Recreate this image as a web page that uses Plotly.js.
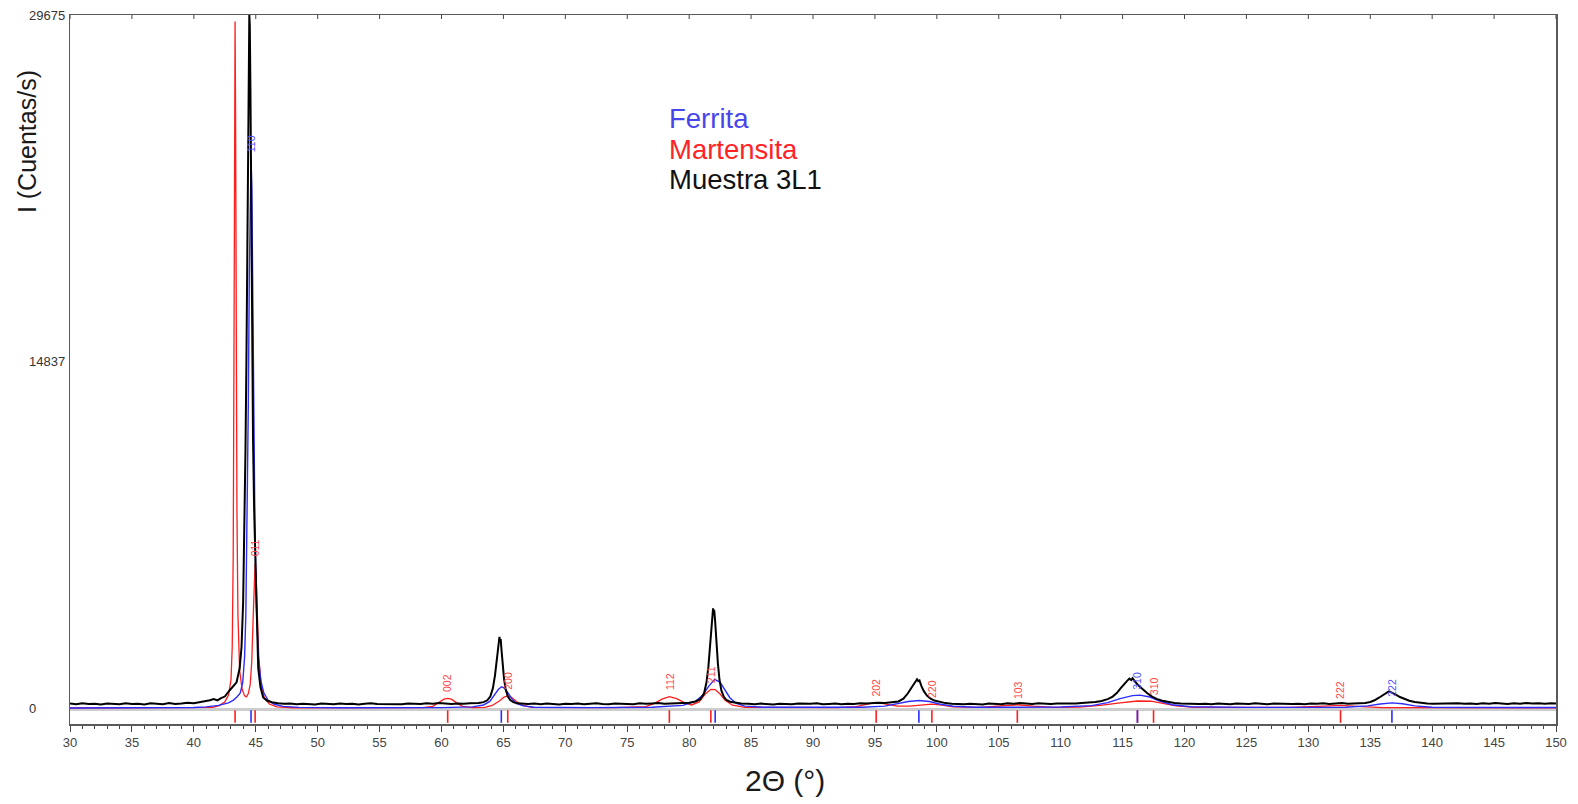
<!DOCTYPE html>
<html>
<head>
<meta charset="utf-8">
<script src="https://cdn.plot.ly/plotly-3.0.1.min.js"></script>
<style>
  html, body { margin: 0; padding: 0; background: #ffffff; }
  #chart { width: 1578px; height: 804px; }
</style>
</head>
<body>
<div id="chart"></div>
<script>
// Difractograma: patrón medido (Muestra 3L1) y patrones calculados de ferrita y martensita.
// Cada serie es una lista de pares [2θ (°), I (cuentas/s)].

const ferrita = [
  [30,0],[38,0],[40,20],[41,50],[42,110],[42.8,220],[43.2,340],[43.5,480],[43.75,650],[43.95,1100],
  [44.1,2200],[44.2,4000],[44.3,7500],[44.4,13000],[44.48,18500],[44.55,22300],[44.62,23500],[44.68,22300],
  [44.75,18500],[44.83,13000],[44.93,8000],[45.05,4300],[45.2,2300],[45.4,1200],[45.65,650],[46.0,330],
  [46.5,160],[47.2,70],[48.5,25],[52,10],[60,15],[62.5,50],[63.4,130],[63.9,280],[64.3,560],[64.6,800],
  [64.86,910],[65.1,840],[65.4,620],[65.7,380],[66.05,200],[66.6,90],[67.5,35],[72,15],[77,30],[79.5,110],
  [80.5,280],[81.1,560],[81.6,950],[82.07,1230],[82.5,1100],[82.9,760],[83.3,430],[83.8,200],[84.5,80],
  [86,30],[94,30],[95.8,80],[96.8,170],[97.7,280],[98.55,320],[99.4,280],[100.2,170],[101.3,75],[103,30],
  [110,40],[112.5,100],[113.8,230],[114.8,400],[115.8,530],[116.4,550],[117.2,470],[118.0,300],[119.0,140],
  [120.5,55],[125,25],[133,35],[134.8,90],[135.8,170],[136.75,220],[137.6,180],[138.6,90],[140,35],[150,20]
];

const martensita = [
  [30,0],[40,5],[41.5,30],[42.0,90],[42.5,260],[42.8,550],[43.0,1200],[43.1,2600],[43.18,6500],[43.24,15000],
  [43.29,24500],[43.33,29400],[43.37,25500],[43.42,16500],[43.48,8500],[43.56,4000],[43.7,1600],[43.9,800],
  [44.1,520],[44.25,480],[44.4,620],[44.55,1000],[44.68,2000],[44.78,3700],[44.87,5400],[44.95,6200],
  [45.03,5600],[45.12,3900],[45.25,2100],[45.45,950],[45.7,420],[46.1,170],[46.7,50],[48,10],[58.5,15],
  [59.3,70],[59.8,230],[60.2,380],[60.5,415],[60.8,380],[61.2,230],[61.7,70],[62.5,15],[63.5,30],[64.1,110],
  [64.7,310],[65.05,470],[65.35,515],[65.65,460],[66.0,300],[66.5,120],[67.3,30],[74,15],[76.5,60],[77.2,200],
  [77.8,380],[78.4,485],[79.0,400],[79.6,230],[80.2,130],[80.8,260],[81.3,600],[81.75,800],[82.1,790],
  [82.5,600],[82.9,330],[83.5,120],[84.5,30],[92,15],[93.5,60],[94.3,160],[95.1,240],[95.9,170],[96.8,80],
  [97.8,80],[98.7,130],[99.6,165],[100.4,120],[101.3,50],[103.5,25],[105.2,80],[106.5,140],[107.8,80],
  [109.5,25],[111.5,40],[113.2,110],[114.8,220],[116.2,300],[117.3,290],[118.3,200],[119.3,90],[120.8,25],
  [128.5,25],[130.8,70],[132.6,110],[134.3,60],[136,20],[150,10]
];

const muestra = [
  [30,190],[30.5,160],[31,200],[31.5,170],[32,185],[32.5,150],[33,195],[33.5,175],[34,160],[34.5,205],
  [35,170],[35.5,185],[36,155],[36.5,200],[37,180],[37.5,165],[38,210],[38.5,175],[39,190],[39.5,220],
  [40,200],[40.5,240],[41,280],[41.3,330],[41.6,380],[41.9,330],[42.2,420],[42.5,490],[42.9,760],[43.2,950],
  [43.45,1100],[43.7,1700],[43.85,2600],[43.98,4500],[44.08,7500],[44.17,11000],[44.25,15000],[44.33,20000],
  [44.4,25000],[44.45,28500],[44.48,29700],[44.52,29200],[44.57,26500],[44.63,21500],[44.7,16000],
  [44.78,11500],[44.87,8500],[44.95,6500],[45.05,4000],[45.2,1700],[45.38,900],[45.6,450],[45.9,320],
  [46.3,250],[46.8,205],[47.3,180],[47.8,195],[48.3,160],[48.8,185],[49.3,170],[49.8,155],[50.3,190],
  [50.8,175],[51.3,160],[51.8,195],[52.3,170],[52.8,185],[53.3,150],[53.8,180],[54.3,200],[54.8,170],
  [55.3,165],[55.8,190],[56.3,175],[56.8,160],[57.3,195],[57.8,180],[58.3,170],[58.8,200],[59.3,185],
  [59.8,210],[60.3,190],[60.8,175],[61.3,195],[61.8,180],[62.3,200],[62.7,190],[63.0,210],[63.4,250],
  [63.7,330],[63.95,500],[64.15,850],[64.32,1400],[64.45,2000],[64.55,2550],[64.62,2900],[64.68,3050],
  [64.73,2850],[64.78,2950],[64.86,2400],[64.95,1800],[65.05,1250],[65.18,800],[65.35,500],[65.55,340],
  [65.8,250],[66.1,200],[66.5,185],[67,170],[67.5,190],[68,160],[68.5,190],[69,175],[69.5,155],[70,185],
  [70.5,170],[71,195],[71.5,165],[72,180],[72.5,200],[73,170],[73.5,160],[74,190],[74.5,175],[75,185],
  [75.5,165],[76,200],[76.5,180],[77,195],[77.5,210],[78,185],[78.5,200],[79,220],[79.5,205],[80.0,230],
  [80.5,280],[80.9,380],[81.2,620],[81.4,1100],[81.55,1750],[81.68,2600],[81.8,3500],[81.88,4100],
  [81.93,4270],[81.97,4050],[82.02,4200],[82.1,3700],[82.2,2800],[82.32,1900],[82.45,1200],[82.6,750],
  [82.8,480],[83.0,350],[83.3,270],[83.7,220],[84.2,190],[84.8,180],[85.3,165],[85.8,190],[86.3,170],
  [86.8,155],[87.3,185],[87.8,175],[88.3,160],[88.8,190],[89.3,170],[89.8,180],[90.3,200],[90.8,165],
  [91.3,175],[91.8,190],[92.3,160],[92.8,185],[93.3,175],[93.8,200],[94.3,190],[94.8,220],[95.3,230],
  [95.8,215],[96.2,240],[96.5,230],[96.9,280],[97.3,400],[97.65,620],[97.95,870],[98.2,1080],[98.4,1230],
  [98.5,1150],[98.6,1180],[98.75,950],[98.95,720],[99.2,530],[99.5,400],[99.8,320],[100.2,260],[100.7,210],
  [101.2,185],[101.7,175],[102.2,160],[102.7,185],[103.2,170],[103.7,155],[104.2,190],[104.7,175],
  [105.2,165],[105.7,200],[106.2,185],[106.7,210],[107.2,190],[107.7,175],[108.2,200],[108.7,180],
  [109.2,170],[109.7,195],[110.2,185],[110.7,200],[111.2,190],[111.7,215],[112.3,230],[112.8,260],
  [113.3,300],[113.8,380],[114.2,490],[114.55,650],[114.85,850],[115.1,1020],[115.35,1150],[115.55,1260],
  [115.7,1200],[115.8,1275],[115.95,1160],[116.15,1040],[116.4,910],[116.7,760],[117.0,630],[117.35,500],
  [117.75,390],[118.2,310],[118.7,250],[119.2,215],[119.7,195],[120.2,180],[120.7,190],[121.2,170],
  [121.7,185],[122.2,160],[122.7,190],[123.2,175],[123.7,165],[124.2,195],[124.7,180],[125.2,170],
  [125.7,200],[126.2,175],[126.7,165],[127.2,190],[127.7,180],[128.2,200],[128.7,175],[129.2,185],
  [129.7,165],[130.2,195],[130.7,180],[131.2,200],[131.7,175],[132.2,190],[132.7,210],[133.2,185],
  [133.7,200],[134.2,190],[134.6,215],[135.0,260],[135.35,330],[135.7,440],[136.0,550],[136.3,650],
  [136.5,710],[136.65,680],[136.85,640],[137.1,560],[137.4,470],[137.75,390],[138.15,310],[138.6,255],
  [139.1,215],[139.6,195],[140.1,185],[140.6,195],[141.1,175],[141.6,190],[142.1,205],[142.6,180],
  [143.1,195],[143.6,170],[144.1,200],[144.6,185],[145.1,210],[145.6,190],[146.1,175],[146.6,200],
  [147.1,185],[147.6,215],[148.1,190],[148.6,205],[149.1,185],[149.6,200],[150,190]
];

// Fondo gris bajo la línea base
const fondo = [[30,-60],[150,-60]];

// Posiciones de Bragg y sus índices (hkl)
const reflexMartensita = [43.33, 44.95, 60.5, 65.35, 78.4, 81.75, 95.1, 99.6, 106.5, 116.2, 117.5, 132.6];
const hklMartensita    = ['',    '011', '002', '200', '112', '211', '202', '220', '103', '',   '310', '222'];
const reflexFerrita    = [44.62, 64.83, 82.1, 98.55, 116.2, 136.75];
const hklFerrita       = ['110', '',    '',   '',    '310', '222'];

// Marcas del eje Y
const yTickVals  = [0, 14837, 29675];
const yTickTexts = ['0', '14837', '29675'];

// Leyenda
const leyendaTextos  = ['Ferrita', 'Martensita', 'Muestra 3L1'];
const leyendaColores = ['rgb(70,70,235)', 'rgb(255,35,40)', '#111111'];

const X_MIN = 30, X_MAX = 150, Y_MIN = -685, Y_MAX = 29675;
const BLUE = 'rgb(45,45,255)', RED = 'rgb(255,30,30)';
const FONT = 'Liberation Sans, Arial, sans-serif';

const xs = s => s.map(p => p[0]);
const ys = s => s.map(p => p[1]);
function interp(serie, x) {
  for (let i = 1; i < serie.length; i++) {
    if (x <= serie[i][0]) {
      const [x0, y0] = serie[i - 1], [x1, y1] = serie[i];
      return y0 + (y1 - y0) * (x - x0) / (x1 - x0);
    }
  }
  return serie[serie.length - 1][1];
}

const traces = [
  { x: xs(fondo), y: ys(fondo), mode: 'lines', line: { color: 'rgb(205,205,205)', width: 3 }, hoverinfo: 'skip' },
  { x: xs(martensita), y: ys(martensita), mode: 'lines', name: 'Martensita', line: { color: RED, width: 1.3 } },
  { x: xs(ferrita), y: ys(ferrita), mode: 'lines', name: 'Ferrita', line: { color: BLUE, width: 1.4 } },
  { x: xs(muestra), y: ys(muestra), mode: 'lines', name: 'Muestra 3L1', line: { color: '#000000', width: 2 } },
  { x: reflexMartensita, y: reflexMartensita.map(() => -365), mode: 'markers',
    marker: { symbol: 'line-ns', size: 9, line: { color: RED, width: 1.6 } }, hoverinfo: 'x' },
  { x: reflexFerrita, y: reflexFerrita.map(() => -365), mode: 'markers',
    marker: { symbol: 'line-ns', size: 9, line: { color: BLUE, width: 1.6 } }, hoverinfo: 'x' }
];

const annotations = [];

// Índices (hkl) verticales sobre los picos calculados
reflexMartensita.forEach((x, i) => {
  if (!hklMartensita[i]) return;
  annotations.push({ x: x, y: interp(martensita, x), xref: 'x', yref: 'y', text: hklMartensita[i],
    showarrow: false, textangle: -90, xanchor: 'center', yanchor: 'middle', yshift: 15,
    font: { family: FONT, size: 10.5, color: 'rgb(255,70,70)' } });
});
reflexFerrita.forEach((x, i) => {
  if (!hklFerrita[i]) return;
  annotations.push({ x: x, y: interp(ferrita, x), xref: 'x', yref: 'y', text: hklFerrita[i],
    showarrow: false, textangle: -90, xanchor: 'center', yanchor: 'middle', yshift: 15,
    font: { family: FONT, size: 10.5, color: 'rgb(80,80,255)' } });
});

// Etiquetas del eje Y, alineadas a la izquierda
yTickVals.forEach((v, i) => {
  annotations.push({ x: 0, y: v, xref: 'paper', yref: 'y', text: yTickTexts[i], showarrow: false,
    xanchor: 'left', yanchor: 'middle', xshift: -43,
    font: { family: FONT, size: 13, color: '#333333' } });
});

// Leyenda de texto en color
leyendaTextos.forEach((t, i) => {
  annotations.push({ x: 0.4017, y: 0.8547 - i * 0.0437, xref: 'paper', yref: 'paper', text: t,
    showarrow: false, xanchor: 'left', yanchor: 'middle',
    font: { family: FONT, size: 27.5, color: leyendaColores[i] } });
});

// Títulos de los ejes
annotations.push({ x: 0.481, y: -0.079, xref: 'paper', yref: 'paper', text: '2Θ (°)', showarrow: false,
  xanchor: 'center', yanchor: 'middle', font: { family: FONT, size: 30, color: '#1a1a1a' } });
annotations.push({ x: -0.029, y: 0.822, xref: 'paper', yref: 'paper', text: 'I (Cuentas/s)', showarrow: false,
  textangle: -90, xanchor: 'center', yanchor: 'middle', font: { family: FONT, size: 25, color: '#1a1a1a' } });

// Marcas cortas hacia dentro en el borde superior
const shapes = [];
for (let v = X_MIN; v <= X_MAX; v += 5) {
  shapes.push({ type: 'line', xref: 'x', yref: 'paper', x0: v, x1: v, y0: 1, y1: 1 - 4 / 709,
    line: { color: '#444444', width: 1 } });
}

const layout = {
  width: 1578, height: 804,
  margin: { l: 70, r: 22, t: 15, b: 80 },
  paper_bgcolor: '#ffffff', plot_bgcolor: '#ffffff',
  showlegend: false,
  xaxis: {
    range: [X_MIN, X_MAX], tick0: 30, dtick: 5, ticks: 'outside', ticklen: 6, tickwidth: 1,
    tickcolor: '#444444', showgrid: false, zeroline: false,
    showline: true, linecolor: '#5a5a5a', linewidth: 1.5, mirror: true,
    tickfont: { family: FONT, size: 13, color: '#444444' },
    minor: { dtick: 1, ticks: 'outside', ticklen: 3, tickcolor: '#444444', showgrid: false }
  },
  yaxis: {
    range: [Y_MIN, Y_MAX], showticklabels: false, ticks: '', showgrid: false, zeroline: false,
    showline: true, linecolor: '#5a5a5a', linewidth: 1.5, mirror: true
  },
  annotations: annotations,
  shapes: shapes
};

Plotly.newPlot('chart', traces, layout, { displayModeBar: false, staticPlot: true });
</script>
</body>
</html>
